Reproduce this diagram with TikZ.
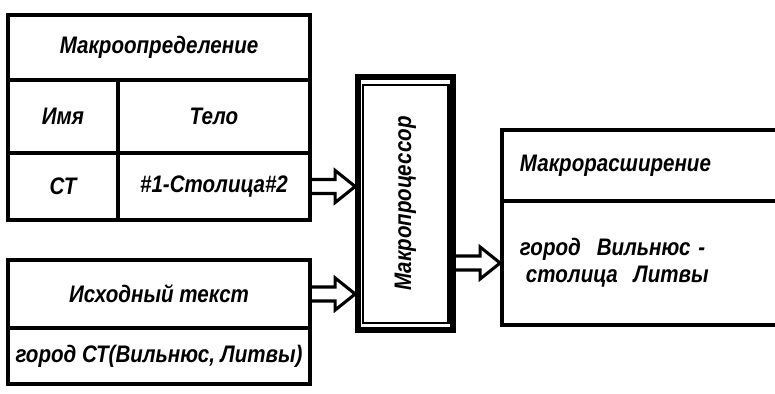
\documentclass[tikz,border=0pt]{standalone}
\usepackage{fontspec}
\setmainfont{Liberation Sans}[FakeStretch=0.86]
\usetikzlibrary{calc}

\begin{document}
\begin{tikzpicture}[
    x=0.025cm, y=-0.025cm,
    cell/.style={
        draw, line width=2.6pt,
        inner sep=0pt, text centered, align=center,
        font=\fontsize{17}{19}\selectfont\bfseries\itshape
    },
    harrow/.style={
        draw, line width=2.2pt, line join=miter,
        to path={let \p1=(\tikztostart), \p2=(\tikztotarget) in
            (\x1,\y1+0.175cm) -- (\x2-0.5cm,\y1+0.175cm) -- (\x2-0.5cm,\y1+0.4cm)
            -- (\x2,\y1) -- (\x2-0.5cm,\y1-0.4cm) -- (\x2-0.5cm,\y1-0.175cm)
            -- (\x1,\y1-0.175cm)}
    },
]
\useasboundingbox (0,0) rectangle (775,394);

% Macro definition table (top left)
\node[cell, minimum width=7.55cm, minimum height=1.625cm] (defhead) at (159,47.5) {Макроопределение};
\node[cell, minimum width=2.75cm, minimum height=1.825cm] (name) at (63,116.5) {Имя};
\node[cell, minimum width=4.8cm, minimum height=1.825cm] (body) at (214,116.5) {Тело};
\node[cell, minimum width=2.75cm, minimum height=1.675cm] (ct) at (63,186.5) {СТ};
\node[cell, minimum width=4.8cm, minimum height=1.675cm] (macro) at (214,186.5) {\#1-Столица\#2};

% Source text (bottom left)
\node[cell, minimum width=7.55cm, minimum height=1.7cm] (srchead) at (159,294) {Исходный текст};
\node[cell, minimum width=7.55cm, minimum height=1.4cm] (srcline) at (159,356) {город СТ(Вильнюс, Литвы)};

% Macro processor (double frame)
\node[cell, line width=4pt, minimum width=2.375cm, minimum height=6.325cm,
    label={[rotate=90, font=\fontsize{17}{19}\selectfont\bfseries\itshape]center:Макропроцессор}] (proc) at (405.5,203.5) {};
\draw[line width=1.8pt] ([shift={(0.2cm,-0.27cm)}]proc.north west) rectangle ([shift={(-0.18cm,0.25cm)}]proc.south east);

% Macro expansion (right, open to the page edge)
\node[cell, minimum height=1.775cm, text width=6.3cm, inner xsep=0.45cm, align=left] (reshead) at (646,165.5) {Макрорасширение};
\node[cell, minimum height=3.1cm, text width=6.3cm, inner xsep=0.45cm, align=left] (resbody) at (646,263)
    {город \ Вильнюс -\\\hspace{0.15cm}столица \ Литвы};

% Hollow arrows
\draw[harrow] (macro.east) to (proc.west |- macro.east);
\draw[harrow] (srchead.east) to (proc.west |- srchead.east);
\draw[harrow] (proc.east |- resbody.west) to (resbody.west);

\end{tikzpicture}
\end{document}
